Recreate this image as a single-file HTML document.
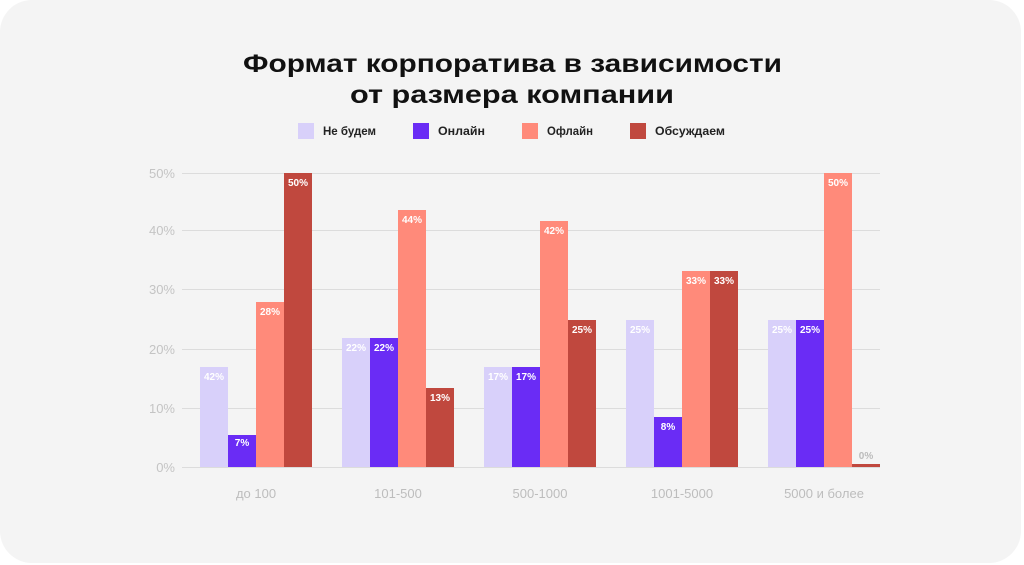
<!DOCTYPE html>
<html><head><meta charset="utf-8"><style>
html,body{margin:0;padding:0;background:#fff;}
svg{display:block;font-family:"Liberation Sans","DejaVu Sans",sans-serif;}
</style></head><body>
<svg width="1024" height="565" viewBox="0 0 1024 565" xmlns="http://www.w3.org/2000/svg">
<rect x="0" y="0" width="1021" height="563" rx="32" fill="#f4f4f4"/>
<text x="243" y="72" textLength="539" lengthAdjust="spacingAndGlyphs" font-size="25" font-weight="bold" fill="#111">Формат корпоратива в зависимости</text>
<text x="350" y="103" textLength="324" lengthAdjust="spacingAndGlyphs" font-size="25" font-weight="bold" fill="#111">от размера компании</text>
<g font-size="11.5" font-weight="bold" fill="#222">
<rect x="298" y="123" width="16" height="16" fill="#d8d0fa"/><text x="323" y="135" textLength="53" lengthAdjust="spacingAndGlyphs">Не будем</text>
<rect x="413" y="123" width="16" height="16" fill="#6a2cf5"/><text x="438" y="135" textLength="47" lengthAdjust="spacingAndGlyphs">Онлайн</text>
<rect x="522" y="123" width="16" height="16" fill="#ff8a7a"/><text x="547" y="135" textLength="46" lengthAdjust="spacingAndGlyphs">Офлайн</text>
<rect x="630" y="123" width="16" height="16" fill="#c0483e"/><text x="655" y="135" textLength="70" lengthAdjust="spacingAndGlyphs">Обсуждаем</text>
</g>
<g stroke="#dcdcdc" stroke-width="1">
<line x1="182" y1="173.5" x2="880" y2="173.5"/><line x1="182" y1="230.5" x2="880" y2="230.5"/>
<line x1="182" y1="289.5" x2="880" y2="289.5"/><line x1="182" y1="349.5" x2="880" y2="349.5"/>
<line x1="182" y1="408.5" x2="880" y2="408.5"/><line x1="182" y1="467.5" x2="880" y2="467.5"/>
</g>
<g font-size="13" fill="#c4c4c4" text-anchor="end">
<text x="175" y="178">50%</text><text x="175" y="235">40%</text><text x="175" y="294">30%</text>
<text x="175" y="354">20%</text><text x="175" y="413">10%</text><text x="175" y="472">0%</text>
</g>
<g font-size="13" fill="#bdbdbd" text-anchor="middle">
<text x="256" y="498">до 100</text><text x="398" y="498">101-500</text><text x="540" y="498">500-1000</text>
<text x="682" y="498">1001-5000</text><text x="824" y="498">5000 и более</text>
</g>
<g>
<rect x="200" y="367" width="28" height="100" fill="#d8d0fa"/>
<rect x="228" y="435" width="28" height="32" fill="#6a2cf5"/>
<rect x="256" y="302" width="28" height="165" fill="#ff8a7a"/>
<rect x="284" y="173" width="28" height="294" fill="#c0483e"/>
<rect x="342" y="338" width="28" height="129" fill="#d8d0fa"/>
<rect x="370" y="338" width="28" height="129" fill="#6a2cf5"/>
<rect x="398" y="210" width="28" height="257" fill="#ff8a7a"/>
<rect x="426" y="388" width="28" height="79" fill="#c0483e"/>
<rect x="484" y="367" width="28" height="100" fill="#d8d0fa"/>
<rect x="512" y="367" width="28" height="100" fill="#6a2cf5"/>
<rect x="540" y="221" width="28" height="246" fill="#ff8a7a"/>
<rect x="568" y="320" width="28" height="147" fill="#c0483e"/>
<rect x="626" y="320" width="28" height="147" fill="#d8d0fa"/>
<rect x="654" y="417" width="28" height="50" fill="#6a2cf5"/>
<rect x="682" y="271" width="28" height="196" fill="#ff8a7a"/>
<rect x="710" y="271" width="28" height="196" fill="#c0483e"/>
<rect x="768" y="320" width="28" height="147" fill="#d8d0fa"/>
<rect x="796" y="320" width="28" height="147" fill="#6a2cf5"/>
<rect x="824" y="173" width="28" height="294" fill="#ff8a7a"/>
<rect x="852" y="464" width="28" height="3" fill="#c0483e"/>
</g>
<g font-size="10" font-weight="bold" fill="#fff" text-anchor="middle">
<text x="214" y="380">42%</text><text x="242" y="446">7%</text><text x="270" y="315">28%</text><text x="298" y="186">50%</text>
<text x="356" y="351">22%</text><text x="384" y="351">22%</text><text x="412" y="223">44%</text><text x="440" y="401">13%</text>
<text x="498" y="380">17%</text><text x="526" y="380">17%</text><text x="554" y="234">42%</text><text x="582" y="333">25%</text>
<text x="640" y="333">25%</text><text x="668" y="430">8%</text><text x="696" y="284">33%</text><text x="724" y="284">33%</text>
<text x="782" y="333">25%</text><text x="810" y="333">25%</text><text x="838" y="186">50%</text>
<text x="866" y="459" fill="#bbb">0%</text>
</g>
</svg>
</body></html>
